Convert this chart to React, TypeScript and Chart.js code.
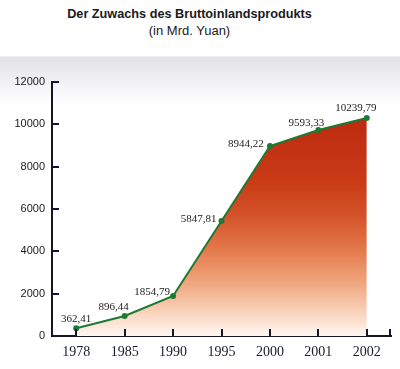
import { useEffect, useRef } from "react";
import { Chart, registerables } from "chart.js";

Chart.register(...registerables);

const years = ["1978", "1985", "1990", "1995", "2000", "2001", "2002"];
const gdpValues = [370, 945, 1890, 5435, 8975, 9730, 10300];
const valueLabels = ["362,41", "896,44", "1854,79", "5847,81", "8944,22", "9593,33", "10239,79"];
const yMin = 0;
const yMax = 12000;
const yStep = 2000;
const titleText = "Der Zuwachs des Bruttoinlandsprodukts";
const subtitleText = "(in Mrd. Yuan)";

const AXIS = "#15152a";
const GREEN = "#1d7a33";
// label placement relative to each point (dx, dy of label centre)
const labelOffsets = [
  [0, -9],
  [-11, -9],
  [-21, -4],
  [-23, -2],
  [-24, -2],
  [-12, -7],
  [-11, -10],
];

const inwardTicks = {
  id: "inwardTicks",
  afterDraw(chart: any) {
    const { ctx, chartArea, scales } = chart;
    const line = (x1: number, y1: number, x2: number, y2: number) => {
      ctx.beginPath();
      ctx.moveTo(x1, y1);
      ctx.lineTo(x2, y2);
      ctx.stroke();
    };
    ctx.save();
    ctx.strokeStyle = AXIS;
    ctx.lineWidth = 2;
    const ys = scales.y;
    ys.ticks.forEach((_t: any, i: number) => {
      const py = Math.round(ys.getPixelForTick(i));
      line(chartArea.left, py, chartArea.left + 7, py);
    });
    const xs = scales.x;
    xs.ticks.forEach((_t: any, i: number) => {
      const px = Math.round(xs.getPixelForTick(i));
      line(px, chartArea.bottom, px, chartArea.bottom - 7);
    });
    line(chartArea.right - 1, chartArea.bottom, chartArea.right - 1, chartArea.bottom - 7);
    ctx.restore();
  },
};

const valueLabelPlugin = {
  id: "valueLabelPlugin",
  afterDatasetsDraw(chart: any) {
    const { ctx } = chart;
    const meta = chart.getDatasetMeta(0);
    ctx.save();
    ctx.font = '11px "Liberation Serif", "Times New Roman", serif';
    ctx.fillStyle = "#222";
    ctx.textAlign = "center";
    ctx.textBaseline = "middle";
    meta.data.forEach((pt: any, i: number) => {
      const [dx, dy] = labelOffsets[i];
      ctx.fillText(valueLabels[i], pt.x + dx, pt.y + dy);
    });
    ctx.restore();
  },
};

export default function App() {
  const ref = useRef<HTMLCanvasElement | null>(null);

  useEffect(() => {
    if (!ref.current) return;
    const chart = new Chart(ref.current, {
      type: "line",
      data: {
        labels: years,
        datasets: [
          {
            data: gdpValues,
            borderColor: GREEN,
            borderWidth: 2,
            pointRadius: 3,
            pointBackgroundColor: GREEN,
            pointBorderColor: GREEN,
            pointBorderWidth: 0,
            tension: 0,
            fill: "origin",
            backgroundColor: (context: any) => {
              const { chart: c } = context;
              const { ctx, chartArea, scales } = c;
              if (!chartArea || !scales.y) return "rgba(200,60,20,0.5)";
              const top = scales.y.getPixelForValue(Math.max(...gdpValues));
              const g = ctx.createLinearGradient(0, top, 0, chartArea.bottom);
              g.addColorStop(0, "#bd2a10");
              g.addColorStop(0.3, "#c93c16");
              g.addColorStop(0.45, "#d4532a");
              g.addColorStop(0.6, "#e4784a");
              g.addColorStop(0.75, "#efa47c");
              g.addColorStop(0.88, "#f8cfb6");
              g.addColorStop(1, "#fff7f2");
              return g;
            },
          },
        ],
      },
      options: {
        animation: false,
        responsive: false,
        events: [],
        layout: { padding: { left: 0, top: 82, right: 9, bottom: 0 } },
        plugins: {
          legend: { display: false },
          tooltip: { enabled: false },
          title: { display: false },
        },
        scales: {
          x: {
            type: "category",
            offset: true,
            z: 1,
            grid: { display: true, drawOnChartArea: false, drawTicks: false, offset: false },
            border: { display: true, color: AXIS, width: 2 },
            ticks: {
              color: "#1a1a2a",
              padding: 8,
              font: { family: '"Liberation Serif", "Times New Roman", serif', size: 14 },
              maxRotation: 0,
              autoSkip: false,
            },
            afterFit: (scale: any) => {
              scale.height = 33;
            },
          },
          y: {
            min: yMin,
            max: yMax,
            z: 1,
            grid: { display: true, drawOnChartArea: false, drawTicks: false },
            border: { display: true, color: AXIS, width: 2 },
            ticks: {
              stepSize: yStep,
              color: "#1a1a1a",
              padding: 7,
              font: { family: '"Liberation Sans", Arial, sans-serif', size: 11 },
              callback: (v: any) => String(v),
            },
            afterFit: (scale: any) => {
              scale.width = 52;
            },
          },
        },
      },
      plugins: [inwardTicks, valueLabelPlugin],
    });
    return () => chart.destroy();
  }, []);

  return (
    <div
      style={{
        position: "absolute",
        left: 0,
        top: 0,
        width: 400,
        height: 369,
        background:
          "linear-gradient(to bottom, #ffffff 0px, #ffffff 56px, #e2e2e6 57px, #efeff2 78px, #ffffff 104px)",
        overflow: "hidden",
      }}
    >
      <div
        style={{
          position: "absolute",
          left: 0,
          top: 7,
          width: 379,
          textAlign: "center",
          font: 'bold 12.7px/15px "Liberation Sans", Arial, sans-serif',
          color: "#1a1a1a",
        }}
      >
        {titleText}
      </div>
      <div
        style={{
          position: "absolute",
          left: 0,
          top: 23,
          width: 379,
          textAlign: "center",
          font: '13px/15px "Liberation Sans", Arial, sans-serif',
          color: "#1a1a1a",
        }}
      >
        {subtitleText}
      </div>
      <canvas ref={ref} width={400} height={369} style={{ position: "absolute", left: 0, top: 0 }} />
    </div>
  );
}
